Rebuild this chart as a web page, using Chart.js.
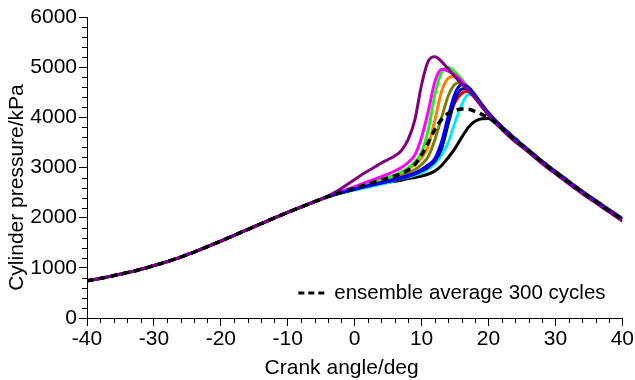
<!DOCTYPE html>
<html>
<head>
<meta charset="utf-8">
<script src="https://cdn.jsdelivr.net/npm/chart.js@4.4.0/dist/chart.umd.min.js"></script>
<style>
  html, body { margin: 0; padding: 0; background: #fff; }
  #wrap { width: 635px; height: 380px; }
</style>
</head>
<body>
<div id="wrap"><canvas id="chart"></canvas></div>
<script>
// crank angle, deg
const angles = [-40,-39,-38,-37,-36,-35,-34,-33,-32,-31,-30,-29,-28,-27,-26,-25,-24,-23,-22,-21,
  -20,-19,-18,-17,-16,-15,-14,-13,-12,-11,-10,-9,-8,-7,-6,-5,-4,-3,-2,-1,
  0,1,2,3,4,5,6,7,8,9,10,11,12,13,14,15,16,17,18,19,
  20,21,22,23,24,25,26,27,28,29,30,31,32,33,34,35,36,37,38,39,40];

// shared compression, -40 .. -5 deg
const compression = [740,765,790,815,845,875,905,935,970,1005,1045,1085,1125,1170,1215,1265,1315,1368,1422,1477,
  1533,1590,1648,1706,1764,1822,1879,1935,1995,2050,2105,2160,2213,2266,2318,2370];

// single cycles, -4 .. 24 deg
const cycPurple  = [2430,2500,2580,2670,2760,2850,2930,3010,3090,3160,3230,3340,3560,3950,4650,5120,5210,5110,4960,4810,4670,4530,4380,4210,4040,3890,3760,3630,3510];
const cycMagenta = [2425,2470,2520,2570,2620,2670,2720,2770,2820,2870,2930,3000,3100,3250,3600,4120,4720,4960,4920,4840,4720,4580,4420,4250,4080,3930,3800,3680,3565];
const cycGreen   = [2420,2465,2510,2555,2595,2635,2675,2715,2755,2800,2850,2910,2990,3110,3300,3750,4450,4900,5000,4900,4760,4580,4420,4250,4080,3930,3800,3680,3565];
const cycOrange  = [2420,2465,2510,2555,2595,2635,2675,2715,2755,2795,2845,2900,2970,3060,3190,3430,3950,4520,4780,4820,4720,4580,4420,4250,4080,3930,3800,3680,3565];
const cycOlive   = [2420,2460,2505,2545,2580,2615,2650,2685,2720,2755,2795,2840,2890,2960,3060,3220,3560,4000,4430,4660,4700,4590,4420,4250,4080,3930,3800,3680,3565];
const cycBlue    = [2420,2460,2500,2535,2570,2605,2640,2670,2700,2730,2765,2800,2840,2890,2960,3050,3180,3520,4030,4480,4650,4600,4440,4260,4090,3940,3810,3690,3575];
const cycNavy    = [2420,2460,2495,2530,2565,2600,2630,2660,2690,2720,2750,2785,2825,2870,2930,3010,3130,3380,3880,4350,4560,4580,4440,4260,4090,3940,3810,3690,3575];
const cycCyan    = [2415,2455,2490,2520,2550,2580,2610,2640,2670,2700,2740,2780,2810,2850,2900,2970,3080,3250,3500,3900,4250,4460,4420,4250,4080,3930,3800,3680,3565];
const cycRed     = [2420,2460,2500,2535,2570,2605,2640,2670,2700,2730,2765,2800,2840,2890,2960,3050,3160,3450,3950,4300,4480,4520,4420,4250,4080,3930,3800,3680,3565];
const cycBlack   = [2415,2455,2495,2530,2565,2600,2630,2660,2685,2705,2725,2745,2780,2800,2830,2870,2930,3040,3200,3380,3600,3800,3920,3970,3975,3930,3810,3690,3570];
const cycMean    = [2420,2465,2510,2550,2590,2630,2670,2710,2750,2790,2830,2880,2950,3060,3250,3500,3760,3960,4080,4140,4165,4160,4120,4060,3990,3900,3780,3660,3550];

// expansion, 25 .. 40 deg
const tailUpper = [3455,3345,3235,3125,3020,2920,2820,2720,2620,2525,2430,2340,2250,2160,2070,1980];
const tailMean  = [3440,3330,3220,3110,3005,2905,2805,2705,2605,2510,2415,2325,2235,2145,2055,1960];
const tailLower = [3410,3300,3190,3080,2975,2875,2775,2675,2575,2480,2385,2295,2205,2115,2025,1930];

const yTicks = [0, 1000, 2000, 3000, 4000, 5000, 6000];
const xTicks = [-40, -30, -20, -10, 0, 10, 20, 30, 40];
const xTitle = "Crank angle/deg";
const yTitle = "Cylinder pressure/kPa";

const FONT = "'Liberation Sans', Arial, sans-serif";

function series(mid, tail) {
  const vals = compression.concat(mid, tail);
  return angles.map((a, i) => ({ x: a, y: vals[i] }));
}

function line(label, color, mid, tail, extra) {
  return Object.assign({
    label: label,
    data: series(mid, tail),
    borderColor: color,
    borderWidth: 3,
    pointRadius: 0,
    fill: false,
    cubicInterpolationMode: "monotone",
    borderJoinStyle: "round"
  }, extra || {});
}

Chart.defaults.color = "#000";
Chart.defaults.font.family = FONT;

// minor ticks along both axes
const minorTicks = {
  id: "minorTicks",
  afterDraw(chart) {
    const ctx = chart.ctx;
    const x = chart.scales.x, y = chart.scales.y;
    ctx.save();
    ctx.strokeStyle = "#000";
    ctx.lineWidth = 1;
    ctx.beginPath();
    for (let v = -40; v <= 40; v += 2) {
      if (v % 10 === 0) continue;
      const px = Math.round(x.getPixelForValue(v)) + 0.5;
      ctx.moveTo(px, y.bottom);
      ctx.lineTo(px, y.bottom + 5);
    }
    for (let v = 0; v <= 6000; v += 200) {
      if (v % 1000 === 0) continue;
      const py = Math.round(y.getPixelForValue(v)) + 0.5;
      ctx.moveTo(x.left, py);
      ctx.lineTo(x.left - 5, py);
    }
    ctx.stroke();
    ctx.restore();
  }
};

// axis titles, placed a little off-centre as in the original
const axisTitles = {
  id: "axisTitles",
  afterDraw(chart) {
    const ctx = chart.ctx;
    const area = chart.chartArea;
    ctx.save();
    ctx.fillStyle = "#000";
    ctx.font = "21px " + FONT;
    ctx.textAlign = "center";
    ctx.textBaseline = "middle";
    ctx.fillText(xTitle, (area.left + area.right) / 2 - 13, 368);
    ctx.translate(17, (area.top + area.bottom) / 2 + 20);
    ctx.rotate(-Math.PI / 2);
    ctx.fillText(yTitle, 0, 0);
    ctx.restore();
  }
};

// legend entry for the dashed ensemble curve, inside the plot
const insideLegend = {
  id: "insideLegend",
  afterDraw(chart) {
    const ctx = chart.ctx;
    const area = chart.chartArea;
    const ds = chart.data.datasets[0];
    const yy = area.bottom - 25;
    const x0 = area.right - 324;
    ctx.save();
    ctx.strokeStyle = "#000";
    ctx.lineWidth = 3;
    ctx.setLineDash([6, 4]);
    ctx.beginPath();
    ctx.moveTo(x0, yy);
    ctx.lineTo(x0 + 28, yy);
    ctx.stroke();
    ctx.setLineDash([]);
    ctx.fillStyle = "#000";
    ctx.font = "20.5px " + FONT;
    ctx.textBaseline = "middle";
    ctx.fillText(ds.label, x0 + 36, yy);
    ctx.restore();
  }
};

new Chart(document.getElementById("chart"), {
  type: "line",
  data: {
    datasets: [
      line("ensemble average 300 cycles", "#000", cycMean, tailMean, { borderWidth: 3.5, borderDash: [7, 5] }),
      line("cycle 2", "#800080", cycPurple, tailLower),
      line("cycle 3", "#0000ff", cycBlue, tailUpper),
      line("cycle 4", "#ff00ff", cycMagenta, tailUpper),
      line("cycle 5", "#22ee22", cycGreen, tailUpper),
      line("cycle 6", "#ff8000", cycOrange, tailUpper),
      line("cycle 7", "#808000", cycOlive, tailUpper),
      line("cycle 8", "#00008b", cycNavy, tailUpper),
      line("cycle 9", "#ff0000", cycRed, tailUpper),
      line("cycle 10", "#00e8ff", cycCyan, tailUpper),
      line("cycle 1", "#000", cycBlack, tailUpper)
    ]
  },
  options: {
    responsive: true,
    maintainAspectRatio: false,
    animation: false,
    layout: { padding: { top: 17, right: 11, left: 0, bottom: 0 } },
    plugins: {
      legend: { display: false },
      tooltip: { enabled: false }
    },
    scales: {
      x: {
        type: "linear",
        min: -40,
        max: 40,
        afterBuildTicks: s => { s.ticks = xTicks.map(v => ({ value: v })); },
        afterFit: s => { s.height = 62; },
        ticks: { font: { size: 21 }, padding: 1, maxRotation: 0, callback: v => String(v) },
        grid: { drawOnChartArea: false, tickLength: 8, color: "#000" },
        border: { color: "#000", width: 1 },
        title: { display: false, text: xTitle }
      },
      y: {
        min: 0,
        max: 6000,
        afterBuildTicks: s => { s.ticks = yTicks.map(v => ({ value: v })); },
        afterFit: s => { s.width = 87; },
        ticks: { font: { size: 21 }, padding: 2, callback: v => String(v) },
        grid: { drawOnChartArea: false, tickLength: 8, color: "#000" },
        border: { color: "#000", width: 1 },
        title: { display: false, text: yTitle }
      }
    }
  },
  plugins: [minorTicks, axisTitles, insideLegend]
});
</script>
</body>
</html>
